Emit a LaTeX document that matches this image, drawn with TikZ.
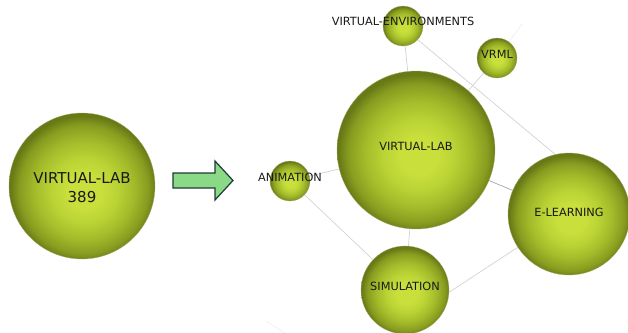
\documentclass[tikz,border=0pt]{standalone}
\usepackage{fontspec}
\setmainfont{DejaVu Sans}
\usepackage{tikz}
\usetikzlibrary{positioning, backgrounds}
\definecolor{ballhi}{HTML}{C8DF3C}
\definecolor{ballup}{HTML}{BBD435}
\definecolor{ballmid}{HTML}{A3BB2A}
\definecolor{balldark}{HTML}{889C20}
\definecolor{balledge}{HTML}{687A16}
\definecolor{linkgray}{HTML}{D2D2D2}
\definecolor{arrowgreen}{HTML}{8AD986}
\definecolor{arrowedge}{HTML}{1D3A3A}
\pgfdeclareradialshading{greenball}{\pgfpoint{1bp}{-2bp}}{color(0bp)=(ballhi); color(6bp)=(ballhi); color(11bp)=(ballup); color(17bp)=(ballmid); color(22bp)=(balldark); color(25bp)=(balledge); color(50bp)=(balledge)}
\tikzset{
  ball/.style={circle, shading=greenball, draw=balledge!60, line width=0.3pt, inner sep=0pt, minimum size=#1},
  lbl/.style={font=\fontsize{11.3}{13}\selectfont, text=black!90},
  link/.style={draw=linkgray, line width=0.7pt}
}

\begin{document}
\begin{tikzpicture}[x=1pt, y=-1pt]
  \useasboundingbox (0,0) rectangle (628,332);
  \clip (0,0) rectangle (628,332);

  % Single keyword
  \node[ball=146pt] (lab) at (82,186) {};
  \node[font=\fontsize{15}{19}\selectfont, align=center, text=black!90] (labtxt) at (82,188) {VIRTUAL-LAB\\389};

  % Arrow
  \draw[arrowedge, fill=arrowgreen, line width=1.2pt, line join=miter]
    (173,173) -- (215,173) -- (215,161) -- (233,180.5) -- (215,200) -- (215,188) -- (173,188) -- cycle;

  % Keyword cluster
  \node[ball=158pt, label={[lbl, yshift=4pt]center:VIRTUAL-LAB}] (vlab) at (416,150) {};
  \node[ball=40pt, label={[lbl, yshift=5pt]center:VIRTUAL-ENVIRONMENTS}] (venv) at (403,26) {};
  \node[ball=40pt, label={[lbl, yshift=3.5pt]center:VRML}] (vrml) at (497,58) {};
  \node[ball=40pt, label={[lbl, yshift=4pt]center:ANIMATION}] (anim) at (290,181) {};
  \node[ball=122pt, label={[lbl, yshift=2pt]center:E-LEARNING}] (elearn) at (569,214) {};
  \node[ball=88pt, label={[lbl, yshift=4pt]center:SIMULATION}] (simu) at (405,290) {};

  % Loose ends
  \coordinate (vrmlstub) at (522,24);
  \coordinate (stubA) at (266,321);
  \coordinate (stubB) at (286,334);

  % Links
  \begin{scope}[on background layer]
    \draw[link] (venv) -- (vlab);
    \draw[link] (venv.-43) -- (elearn.103);
    \draw[link] (vrml) -- (vlab);
    \draw[link, draw=linkgray!35] (vrml) -- (vrmlstub);
    \draw[link] (anim) -- (vlab);
    \draw[link] (anim) -- (simu);
    \draw[link] (vlab) -- (simu);
    \draw[link, draw=black!35] (vlab) -- (elearn);
    \draw[link] (simu.-3) -- (elearn.213);
    \draw[link, draw=linkgray!35] (stubA) -- (stubB);
  \end{scope}
\end{tikzpicture}
\end{document}
